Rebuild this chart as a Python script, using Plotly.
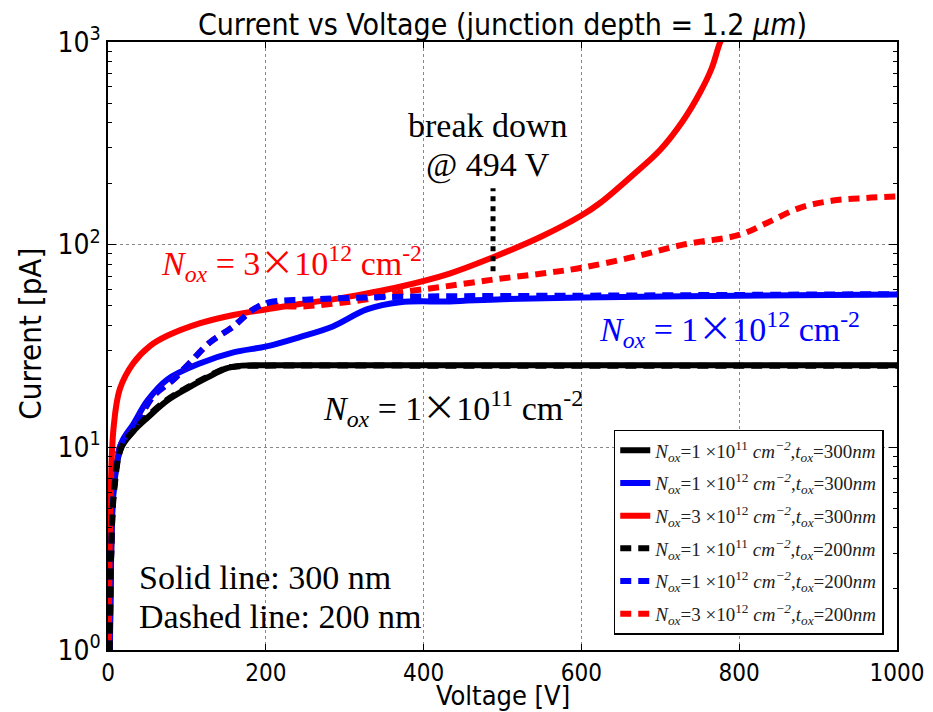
import plotly.graph_objects as go

# ---- data ----
V_blk_s = [2, 4, 6, 10, 17, 32, 50, 75, 100, 125, 150, 170, 200, 400, 600, 800, 1000]
I_blk_s = [0.8, 3.0, 5.5, 7.8, 10.0, 12.0, 14.0, 17.0, 19.5, 22.0, 24.5, 25.3, 25.4, 25.4, 25.4, 25.4, 25.4]

V_blu_s = [2, 4, 7, 17, 32, 50, 75, 117, 159, 201, 243, 285, 328, 370, 433, 500, 600, 800, 1000]
I_blu_s = [0.8, 3.0, 6.0, 10.5, 13.0, 17.0, 21.6, 26.0, 29.4, 31.5, 35.0, 39.5, 47.9, 52.0, 52.5, 53.8, 54.8, 56.0, 56.7]

V_red_s = [1, 3, 7, 15, 32, 53, 75, 117, 159, 201, 243, 285, 328, 370, 433, 486, 550, 601, 624, 666, 700, 729, 750, 765, 776, 790]
I_red_s = [1.0, 5.0, 12.4, 19.4, 26.0, 31.6, 35.5, 41.0, 45.0, 48.0, 51.0, 53.7, 57.5, 62.0, 72.0, 86.0, 110, 140, 161, 222, 294, 410, 560, 740, 1000, 1300]

V_blk_d = [2, 4, 8, 17, 32, 50, 75, 100, 125, 150, 170, 200, 400, 600, 800, 1000]
I_blk_d = [0.8, 3.0, 6.2, 10.0, 12.0, 14.2, 17.2, 19.7, 22.2, 24.6, 25.2, 25.3, 25.3, 25.3, 25.3, 25.3]

V_blu_d = [2, 4, 8, 17, 32, 57, 83, 104, 129, 159, 184, 205, 250, 300, 400, 600, 800, 1000]
I_blu_d = [0.8, 3.0, 6.5, 10.5, 12.3, 17.8, 21.6, 26.2, 32.9, 39.5, 47.9, 52.0, 53.5, 54.5, 55.5, 56.0, 56.5, 57.0]

V_red_d = [2, 4, 8, 17, 32, 57, 83, 104, 129, 159, 184, 205, 243, 328, 370, 425, 491, 550, 601, 666, 729, 801, 835, 877, 919, 961, 1000]
I_red_d = [0.8, 3.0, 6.5, 10.5, 12.3, 17.8, 21.6, 26.2, 32.9, 39.5, 47.9, 50.0, 49.5, 53.7, 58.0, 62.0, 67.5, 72.0, 77.0, 87.0, 100, 112, 128, 152, 165, 170, 173]

V_break = [488, 488]
I_break = [74, 190]

x_ticks = [0, 200, 400, 600, 800, 1000]
y_ticks = [1, 10, 100, 1000]
y_ticktext = ["10<sup>0</sup>", "10<sup>1</sup>", "10<sup>2</sup>", "10<sup>3</sup>"]
y_minor = [m * 10 ** k for k in range(3) for m in range(2, 10)]

TIMES = '<span style="font-family:Noto Sans CJK JP">\u00d7</span>'

def leg(n, e, t):
    return ("<i>N<sub>ox</sub></i>=%s \u00d710<sup>%s</sup> <i>cm<sup>\u22122</sup></i>,"
            "<i>t<sub>ox</sub></i>=%s<i>nm</i>") % (n, e, t)

SERIES = [
    # name, x, y, color, dashed, legendrank
    (leg("1", "11", "300"), V_blk_s, I_blk_s, "black", False, 1),
    (leg("1", "12", "300"), V_blu_s, I_blu_s, "#0000ff", False, 2),
    (leg("3", "12", "300"), V_red_s, I_red_s, "#ff0000", False, 3),
    (leg("3", "12", "200"), V_red_d, I_red_d, "#ff0000", True, 6),
    (leg("1", "12", "200"), V_blu_d, I_blu_d, "#0000ff", True, 5),
    (leg("1", "11", "200"), V_blk_d, I_blk_d, "black", True, 4),
]

fig = go.Figure()
for i, (name, xs, ys, col, dashed, rank) in enumerate(SERIES):
    fig.add_trace(go.Scatter(
        x=xs, y=ys, mode="lines", name=name, legendgroup="g%d" % i, legendrank=rank,
        line=dict(color=col, width=6, dash="11px,7px" if dashed else "solid", shape="spline", smoothing=1.0),
    ))

fig.add_trace(go.Scatter(x=V_break, y=I_break, mode="lines", showlegend=False,
                         line=dict(color="black", width=5, dash="dot")))

serif = "Liberation Serif, Times New Roman, serif"
sans = "DejaVu Sans Condensed, DejaVu Sans, sans-serif"

def nox(n, e):
    return "<i>N<sub>ox</sub></i> = %s%s10<sup>%s</sup> cm<sup>-2</sup>" % (n, TIMES, e)

ann = [
    dict(x=482, y=2.59, text="break down", font=dict(family=serif, size=34, color="black")),
    dict(x=482, y=2.394, text="@ 494 V", font=dict(family=serif, size=34, color="black")),
    dict(x=233, y=1.916, text=nox("3", "12"), font=dict(family=serif, size=34, color="#ff0000")),
    dict(x=788, y=1.59, text=nox("1", "12"), font=dict(family=serif, size=34, color="#0000ff")),
    dict(x=437, y=1.20, text=nox("1", "11"), font=dict(family=serif, size=34, color="black")),
    dict(x=37, y=0.360, text="Solid line: 300 nm", font=dict(family=serif, size=34, color="black"), xanchor="left"),
    dict(x=37, y=0.167, text="Dashed line: 200 nm", font=dict(family=serif, size=34, color="black"), xanchor="left"),
]
for a in ann:
    a.setdefault("xanchor", "center")
    a.update(xref="x", yref="y", showarrow=False, yanchor="middle")

# axis titles placed as paper annotations for exact positioning
ann.append(dict(xref="paper", yref="paper", x=0.5, y=-0.0755, text="Voltage [V]", showarrow=False,
                xanchor="center", yanchor="middle",
                font=dict(family=sans, size=27, color="black")))
ann.append(dict(xref="paper", yref="paper", x=-0.099, y=0.52, text="Current [pA]", showarrow=False,
                textangle=-90, xanchor="center", yanchor="middle",
                font=dict(family=sans, size=31, color="black")))

fig.update_layout(
    width=925, height=704,
    margin=dict(l=100, r=36, t=34, b=62),
    paper_bgcolor="white", plot_bgcolor="white",
    title=dict(text="Current vs Voltage (junction depth = 1.2 <i>\u03bcm</i>)", x=0.5, xanchor="center",
               xref="paper", y=0.977, yref="container", yanchor="middle",
               font=dict(family=sans, size=30, color="black")),
    annotations=ann,
    showlegend=True,
    legend=dict(x=0.641, y=0.362, xanchor="left", yanchor="top",
                bgcolor="white", bordercolor="black", borderwidth=1.5,
                font=dict(family=serif, size=19, color="#222222"),
                traceorder="grouped", tracegroupgap=5, itemwidth=30),
    xaxis=dict(range=[0, 1000], tickvals=x_ticks, ticks="inside", ticklen=6, tickcolor="black",
               showline=True, linecolor="black", linewidth=1.5, mirror="allticks", automargin=False,
               showgrid=True, gridcolor="#888888", griddash="dot", gridwidth=1, zeroline=False,
               tickfont=dict(family=sans, size=24, color="black")),
    yaxis=dict(type="log", range=[0, 3], tickvals=y_ticks, ticktext=y_ticktext, ticks="inside", ticklen=8,
               tickcolor="black", showline=True, linecolor="black", linewidth=1.5, mirror="allticks",
               automargin=False,
               showgrid=True, gridcolor="#888888", griddash="dot", gridwidth=1, zeroline=False,
               minor=dict(tickvals=y_minor, ticks="inside", ticklen=4, tickcolor="black", showgrid=False),
               tickfont=dict(family=sans, size=28, color="black")),
)

fig.write_html("out.html")
